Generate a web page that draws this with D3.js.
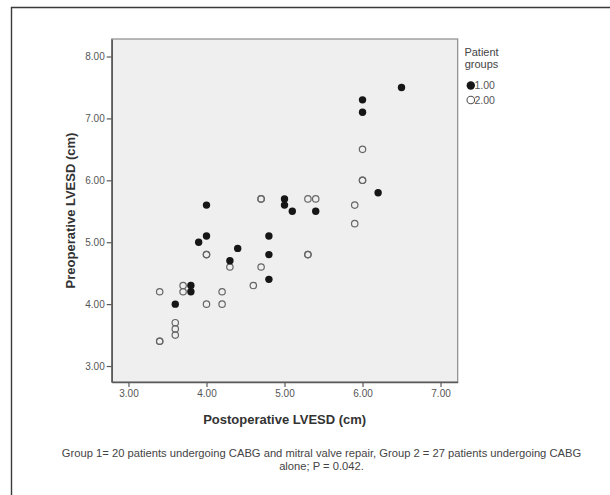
<!DOCTYPE html>
<html>
<head>
<meta charset="utf-8">
<script src="https://cdn.jsdelivr.net/npm/d3@7/dist/d3.min.js"></script>
<style>
  body { margin: 0; background: #fff; }
  svg { display: block; font-family: "Liberation Sans", Arial, sans-serif; }
</style>
</head>
<body>
<svg id="chart" width="610" height="495"></svg>
<script>
// Group 1: CABG + mitral valve repair (filled markers)
const group1Post = [4.0, 5.0, 5.0, 5.1, 5.4, 4.0, 3.9, 4.8, 4.4, 4.8, 4.3, 4.8, 3.8, 3.8, 3.6, 6.5, 6.0, 6.0, 6.2];
const group1Pre  = [5.6, 5.7, 5.6, 5.5, 5.5, 5.1, 5.0, 5.1, 4.9, 4.8, 4.7, 4.4, 4.3, 4.2, 4.0, 7.5, 7.3, 7.1, 5.8];

// Group 2: CABG alone (open markers)
const group2Post = [4.7, 4.7, 5.3, 5.4, 4.0, 4.0, 5.3, 5.3, 4.3, 4.7, 4.6, 3.7, 3.4, 3.7, 4.2, 4.0, 4.2, 3.6, 3.6, 3.6, 3.4, 3.4, 6.0, 6.0, 6.0, 5.9, 5.9];
const group2Pre  = [5.7, 5.7, 5.7, 5.7, 4.8, 4.8, 4.8, 4.8, 4.6, 4.6, 4.3, 4.3, 4.2, 4.2, 4.2, 4.0, 4.0, 3.7, 3.6, 3.5, 3.4, 3.4, 6.5, 6.0, 6.0, 5.6, 5.3];

const xTicks = [3, 4, 5, 6, 7];
const yTicks = [3, 4, 5, 6, 7, 8];
const groupLabels = ["1.00", "2.00"];

const legendTitle = ["Patient", "groups"];
const xTitle = "Postoperative LVESD (cm)";
const yTitle = "Preoperative LVESD (cm)";
const caption = [
  "Group 1= 20 patients undergoing CABG and mitral valve repair, Group 2 = 27 patients undergoing CABG",
  "alone; P = 0.042."
];

const svg = d3.select("#chart");

// outer frame (only top and left edges fall inside the page)
svg.append("path")
  .attr("d", "M11.5,495 V7.5 H610")
  .attr("fill", "none")
  .attr("stroke", "#3a3a3a")
  .attr("stroke-width", 1.4);

const plot = { left: 111.7, right: 457.7, top: 39, bottom: 382 };

const x = d3.scaleLinear().domain([2.785, 7.22]).range([plot.left, plot.right]);
const y = d3.scaleLinear().domain([2.742, 8.283]).range([plot.bottom, plot.top]);

// plot background
svg.append("rect")
  .attr("x", plot.left).attr("y", plot.top)
  .attr("width", plot.right - plot.left).attr("height", plot.bottom - plot.top)
  .attr("fill", "#efefef")
  .attr("stroke", "#8c8c8c")
  .attr("stroke-width", 1.2);

const fmt = d3.format(".2f");

const yAxis = svg.append("g")
  .attr("transform", `translate(${plot.left},0)`)
  .call(d3.axisLeft(y).tickValues(yTicks).tickFormat(fmt).tickSize(5).tickSizeOuter(0).tickPadding(2));

const xAxis = svg.append("g")
  .attr("transform", `translate(0,${plot.bottom})`)
  .call(d3.axisBottom(x).tickValues(xTicks).tickFormat(fmt).tickSize(5).tickSizeOuter(0).tickPadding(3));

[xAxis, yAxis].forEach(g => {
  g.select(".domain").attr("stroke", "#5a5a5a").attr("stroke-width", 1.6);
  g.selectAll(".tick line").attr("stroke", "#5a5a5a").attr("stroke-width", 1.2);
  g.selectAll(".tick text")
    .attr("fill", "#555")
    .style("font-size", "10px")
    .style("font-family", "'Liberation Sans', Arial, sans-serif");
});

// axis titles
svg.append("text")
  .attr("x", (plot.left + plot.right) / 2)
  .attr("y", 423.5)
  .attr("text-anchor", "middle")
  .attr("fill", "#333")
  .style("font-size", "13px")
  .style("font-weight", "bold")
  .text(xTitle);

svg.append("text")
  .attr("transform", `translate(75,${(plot.top + plot.bottom) / 2}) rotate(-90)`)
  .attr("text-anchor", "middle")
  .attr("fill", "#333")
  .style("font-size", "13px")
  .style("font-weight", "bold")
  .text(yTitle);

// markers
const pts2 = group2Post.map((v, i) => ({ px: v, py: group2Pre[i] }));
const pts1 = group1Post.map((v, i) => ({ px: v, py: group1Pre[i] }));

svg.append("g").selectAll("circle")
  .data(pts2).join("circle")
  .attr("cx", d => x(d.px)).attr("cy", d => y(d.py))
  .attr("r", 3.2)
  .attr("fill", "none")
  .attr("stroke", "#666")
  .attr("stroke-width", 1.2);

svg.append("g").selectAll("circle")
  .data(pts1).join("circle")
  .attr("cx", d => x(d.px)).attr("cy", d => y(d.py))
  .attr("r", 3.7)
  .attr("fill", "#161616");

// legend
const legend = svg.append("g");
legend.selectAll("text.title")
  .data(legendTitle).join("text")
  .attr("class", "title")
  .attr("x", 481.5)
  .attr("y", (d, i) => 55.5 + i * 12.5)
  .attr("text-anchor", "middle")
  .attr("fill", "#444")
  .style("font-size", "11px")
  .text(d => d);

const items = legend.selectAll("g.item")
  .data(groupLabels).join("g")
  .attr("class", "item")
  .attr("transform", (d, i) => `translate(470.8,${85.5 + i * 14.5})`);

items.append("circle")
  .attr("r", (d, i) => i === 0 ? 4.2 : 3.8)
  .attr("fill", (d, i) => i === 0 ? "#161616" : "none")
  .attr("stroke", (d, i) => i === 0 ? "none" : "#555")
  .attr("stroke-width", 1.1);

items.append("text")
  .attr("x", 3.6)
  .attr("y", 3.8)
  .attr("fill", "#555")
  .style("font-size", "10.5px")
  .text(d => d);

// caption
svg.append("g").selectAll("text")
  .data(caption).join("text")
  .attr("x", 321.5)
  .attr("y", (d, i) => 456.5 + i * 13)
  .attr("text-anchor", "middle")
  .attr("fill", "#444")
  .style("font-size", "11.2px")
  .text(d => d);
</script>
</body>
</html>
